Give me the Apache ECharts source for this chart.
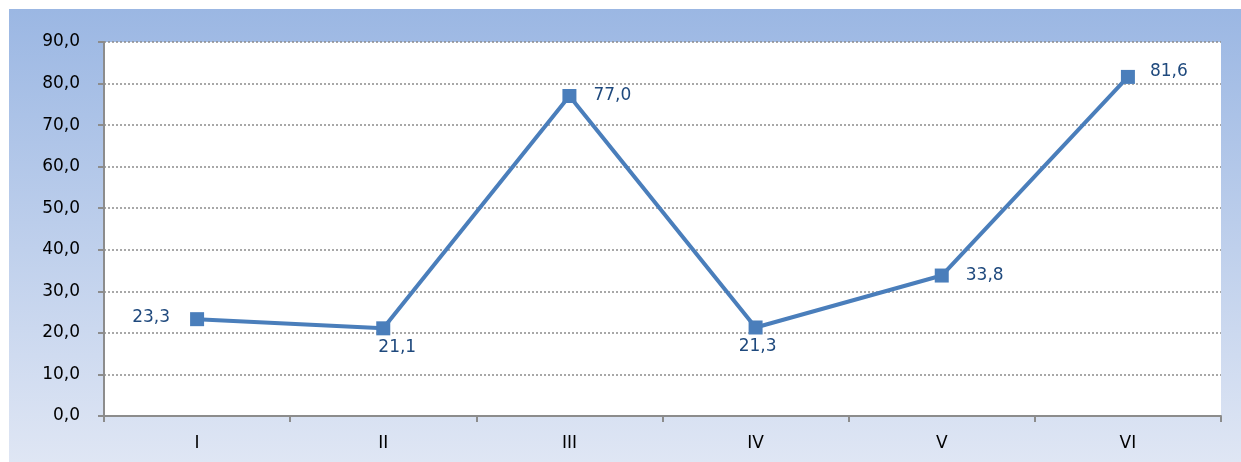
<!DOCTYPE html>
<html>
<head>
<meta charset="utf-8">
<script src="https://cdn.jsdelivr.net/npm/echarts@6/dist/echarts.min.js"></script>
<style>
html,body{margin:0;padding:0;background:#fff;}
#bg{position:absolute;left:9px;top:9px;width:1232px;height:453px;background:linear-gradient(to bottom,#9bb7e3 0%,#dfe6f4 100%);}
#chart{position:absolute;left:0;top:0;width:1241px;height:462px;}
</style>
</head>
<body>
<div id="bg"></div>
<div id="chart"></div>
<script>
var categories = ['I', 'II', 'III', 'IV', 'V', 'VI'];
var values = [23.3, 21.1, 77.0, 21.3, 33.8, 81.6];
var labelPositions = ['left', 'bottom', 'right', 'bottom', 'right', 'right'];
var labelDistances = [20, 4, 17, 4, 17, 15];
var labelOffsets = [[0, -2], [14, 0], [0, 0], [2, 0], [0, 0], [0, -5]];

var fmt = function (v) { return Number(v).toFixed(1).replace('.', ','); };

var chart = echarts.init(document.getElementById('chart'), null, {renderer: 'canvas'});
var font = 'DejaVu Sans';
chart.setOption({
  backgroundColor: 'transparent',
  animation: false,
  grid: {left: 104, top: 42, right: 20, bottom: 46, show: true, backgroundColor: '#ffffff', borderWidth: 0},
  xAxis: {
    type: 'category',
    data: categories,
    boundaryGap: true,
    axisLine: {show: true, lineStyle: {color: '#8c8c8c', width: 2}},
    axisTick: {show: true, alignWithLabel: false, length: 6, lineStyle: {color: '#8c8c8c', width: 2}},
    axisLabel: {color: '#000', fontFamily: font, fontSize: 17, margin: 19},
    splitLine: {show: false}
  },
  yAxis: {
    type: 'value',
    min: 0, max: 90, interval: 10,
    axisLine: {show: true, lineStyle: {color: '#8c8c8c', width: 2}},
    axisTick: {show: true, length: 6, lineStyle: {color: '#8c8c8c', width: 2}},
    axisLabel: {color: '#000', fontFamily: font, fontSize: 17, margin: 24, formatter: fmt},
    splitLine: {show: true, lineStyle: {color: '#8c8c8c', type: [2, 2], width: 1.5}}
  },
  series: [{
    type: 'line',
    data: values.map(function (v, i) {
      return {value: v, label: {position: labelPositions[i], distance: labelDistances[i], offset: labelOffsets[i]}};
    }),
    symbol: 'rect',
    symbolSize: 14,
    lineStyle: {color: '#4a7ebb', width: 4},
    itemStyle: {color: '#4a7ebb'},
    label: {
      show: true,
      color: '#1f497d',
      fontFamily: font,
      fontSize: 17,
      formatter: function (p) { return fmt(p.value); }
    }
  }]
});
</script>
</body>
</html>
